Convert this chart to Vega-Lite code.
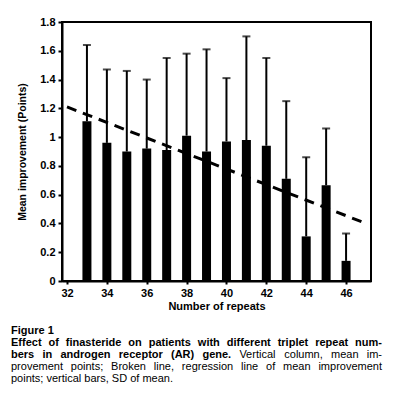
{
  "$schema": "https://vega.github.io/schema/vega-lite/v6.json",
  "background": "white",
  "padding": {"left": 11, "top": 15, "right": 5, "bottom": 5},
  "spacing": 13,
  "config": {
    "font": "Liberation Sans"
  },
  "vconcat": [
    {
      "width": 309,
      "height": 259,
      "view": {"stroke": "black", "strokeWidth": 2},
      "layer": [
        {
          "data": {"name": "bars"},
          "mark": {"type": "bar", "color": "black", "size": 9},
          "encoding": {
            "x": {
              "field": "repeats", "type": "quantitative",
              "scale": {"domain": [32, 47], "nice": false, "zero": false},
              "axis": {
                "values": [32, 34, 36, 38, 40, 42, 44, 46],
                "tickCount": 20,
                "title": "Number of repeats",
                "grid": false,
                "labelFlush": false,
                "labelOverlap": false,
                "domainColor": "black", "domainWidth": 2,
                "tickColor": "black", "tickWidth": 2, "tickSize": 3,
                "labelColor": "black", "labelFont": "Liberation Sans", "labelFontSize": 11, "labelFontWeight": "bold", "labelPadding": 3,
                "titleColor": "black", "titleFont": "Liberation Sans", "titleFontSize": 11, "titleFontWeight": "bold", "titlePadding": 2
              }
            },
            "y": {
              "field": "mean", "type": "quantitative",
              "scale": {"domain": [0, 1.8], "nice": false},
              "axis": {
                "values": [0, 0.2, 0.4, 0.6, 0.8, 1, 1.2, 1.4, 1.6, 1.8],
                "tickCount": 20,
                "format": "~g",
                "title": "Mean improvement (Points)",
                "grid": false,
                "labelFlush": false,
                "labelOverlap": false,
                "domainColor": "black", "domainWidth": 2,
                "tickColor": "black", "tickWidth": 2, "tickSize": 4,
                "labelColor": "black", "labelFont": "Liberation Sans", "labelFontSize": 11, "labelFontWeight": "bold", "labelPadding": 3,
                "titleColor": "black", "titleFont": "Liberation Sans", "titleFontSize": 10.5, "titleFontWeight": "bold", "titlePadding": 12
              }
            }
          }
        },
        {
          "data": {"name": "bars"},
          "mark": {"type": "rule", "color": "black", "strokeWidth": 2},
          "encoding": {
            "x": {"field": "repeats", "type": "quantitative"},
            "y": {"field": "mean", "type": "quantitative"},
            "y2": {"field": "upper"}
          }
        },
        {
          "data": {"name": "bars"},
          "mark": {"type": "tick", "color": "black", "orient": "horizontal", "size": 8, "thickness": 2},
          "encoding": {
            "x": {"field": "repeats", "type": "quantitative"},
            "y": {"field": "upper", "type": "quantitative"}
          }
        },
        {
          "data": {"name": "regression"},
          "mark": {"type": "line", "color": "black", "strokeWidth": 3, "strokeDash": [10, 7]},
          "encoding": {
            "x": {"field": "repeats", "type": "quantitative"},
            "y": {"field": "fit", "type": "quantitative"}
          }
        }
      ]
    },
    {
      "width": 371,
      "height": 60,
      "view": {"stroke": null},
      "data": {"name": "caption"},
      "encoding": {
        "x": {"field": "pos", "type": "quantitative", "scale": {"domain": [0, 1], "nice": false}, "axis": null},
        "y": {"field": "line", "type": "quantitative", "scale": {"domain": [4.5, -0.5], "nice": false, "zero": false}, "axis": null},
        "text": {"field": "text"}
      },
      "layer": [
        {
          "transform": [{"filter": "datum.weight == 'bold'"}],
          "mark": {"type": "text", "align": "left", "dx": -51, "baseline": "middle", "color": "black", "font": "Liberation Sans", "fontSize": 11, "fontWeight": "bold"}
        },
        {
          "transform": [{"filter": "datum.weight == 'normal'"}],
          "mark": {"type": "text", "align": "left", "dx": -51, "baseline": "middle", "color": "black", "font": "Liberation Sans", "fontSize": 11, "fontWeight": "normal"}
        }
      ]
    }
  ],
  "datasets": {
    "bars": [
      {"repeats": 33, "mean": 1.11, "upper": 1.64},
      {"repeats": 34, "mean": 0.96, "upper": 1.47},
      {"repeats": 35, "mean": 0.90, "upper": 1.46},
      {"repeats": 36, "mean": 0.92, "upper": 1.40},
      {"repeats": 37, "mean": 0.91, "upper": 1.55},
      {"repeats": 38, "mean": 1.01, "upper": 1.58},
      {"repeats": 39, "mean": 0.90, "upper": 1.61},
      {"repeats": 40, "mean": 0.97, "upper": 1.41},
      {"repeats": 41, "mean": 0.98, "upper": 1.70},
      {"repeats": 42, "mean": 0.94, "upper": 1.55},
      {"repeats": 43, "mean": 0.71, "upper": 1.25},
      {"repeats": 44, "mean": 0.31, "upper": 0.86},
      {"repeats": 45, "mean": 0.665, "upper": 1.06},
      {"repeats": 46, "mean": 0.14, "upper": 0.33}
    ],
    "regression": [
      {"repeats": 32, "fit": 1.21},
      {"repeats": 47, "fit": 0.40}
    ],
    "caption": [
      {"line": 0, "pos": 0, "weight": "bold", "text": "Figure 1"},
      {"line": 1, "pos": 0, "weight": "bold", "text": "Effect"},
      {"line": 1, "pos": 0.1011, "weight": "bold", "text": "of"},
      {"line": 1, "pos": 0.1477, "weight": "bold", "text": "finasteride"},
      {"line": 1, "pos": 0.3163, "weight": "bold", "text": "on"},
      {"line": 1, "pos": 0.3712, "weight": "bold", "text": "patients"},
      {"line": 1, "pos": 0.5036, "weight": "bold", "text": "with"},
      {"line": 1, "pos": 0.5816, "weight": "bold", "text": "different"},
      {"line": 1, "pos": 0.7188, "weight": "bold", "text": "triplet"},
      {"line": 1, "pos": 0.8199, "weight": "bold", "text": "repeat"},
      {"line": 1, "pos": 0.9275, "weight": "bold", "text": "num-"},
      {"line": 2, "pos": 0, "weight": "bold", "text": "bers"},
      {"line": 2, "pos": 0.0848, "weight": "bold", "text": "in"},
      {"line": 2, "pos": 0.1333, "weight": "bold", "text": "androgen"},
      {"line": 2, "pos": 0.2905, "weight": "bold", "text": "receptor"},
      {"line": 2, "pos": 0.4313, "weight": "bold", "text": "(AR)"},
      {"line": 2, "pos": 0.5160, "weight": "bold", "text": "gene."},
      {"line": 2, "pos": 0.6156, "weight": "normal", "text": "Vertical"},
      {"line": 2, "pos": 0.7366, "weight": "normal", "text": "column,"},
      {"line": 2, "pos": 0.8626, "weight": "normal", "text": "mean"},
      {"line": 2, "pos": 0.9589, "weight": "normal", "text": "im-"},
      {"line": 3, "pos": 0, "weight": "normal", "text": "provement"},
      {"line": 3, "pos": 0.1612, "weight": "normal", "text": "points;"},
      {"line": 3, "pos": 0.2698, "weight": "normal", "text": "Broken"},
      {"line": 3, "pos": 0.3849, "weight": "normal", "text": "line,"},
      {"line": 3, "pos": 0.4605, "weight": "normal", "text": "regression"},
      {"line": 3, "pos": 0.6201, "weight": "normal", "text": "line"},
      {"line": 3, "pos": 0.6874, "weight": "normal", "text": "of"},
      {"line": 3, "pos": 0.7333, "weight": "normal", "text": "mean"},
      {"line": 3, "pos": 0.8286, "weight": "normal", "text": "improvement"},
      {"line": 4, "pos": 0, "weight": "normal", "text": "points; vertical bars, SD of mean."}
    ]
  }
}
